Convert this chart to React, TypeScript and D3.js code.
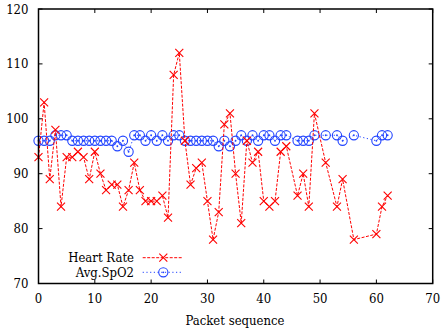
import React from "react";
import * as d3 from "d3";

// packet sequence numbers that were received (45, 50, 52, 55, 57-59 lost)
const packets = [
  0, 1, 2, 3, 4, 5, 6, 7, 8, 9, 10, 11, 12, 13, 14, 15, 16, 17, 18, 19, 20, 21,
  22, 23, 24, 25, 26, 27, 28, 29, 30, 31, 32, 33, 34, 35, 36, 37, 38, 39, 40,
  41, 42, 43, 44, 46, 47, 48, 49, 51, 53, 54, 56, 60, 61, 62,
];
const heartRate = [
  93, 103, 89, 98, 84, 93, 93, 94, 93, 89, 94, 90, 87, 88, 88, 84, 87, 92, 87,
  85, 85, 85, 86, 82, 108, 112, 96, 88, 91, 92, 85, 78, 83, 99, 101, 90, 81, 96,
  92, 94, 85, 84, 85, 94, 95, 86, 90, 84, 101, 92, 84, 89, 78, 79, 84, 86,
];
const avgSpO2 = [
  96, 96, 96, 97, 97, 97, 96, 96, 96, 96, 96, 96, 96, 96, 95, 96, 94, 97, 97,
  96, 97, 96, 97, 96, 97, 97, 96, 96, 96, 96, 96, 96, 95, 96, 95, 96, 97, 96,
  97, 96, 97, 97, 96, 97, 97, 96, 96, 96, 97, 97, 97, 96, 97, 96, 97, 97,
];
const xTicks = [0, 10, 20, 30, 40, 50, 60, 70];
const yTicks = [70, 80, 90, 100, 110, 120];

const W = 441;
const H = 329;
const margin = { top: 9, right: 8.3, bottom: 45.5, left: 38.5 };
const red = "#ff0000";
const blue = "#2244ff";

const Cross = ({ x, y }: { x: number; y: number }) => (
  <path
    d={`M${x - 4},${y - 4}L${x + 4},${y + 4}M${x - 4},${y + 4}L${x + 4},${y - 4}`}
    stroke={red}
    strokeWidth={1.1}
    fill="none"
  />
);

const Circ = ({ x, y }: { x: number; y: number }) => (
  <g>
    <circle cx={x} cy={y} r={4.6} stroke={blue} strokeWidth={1.1} fill="none" />
    <circle cx={x} cy={y} r={0.9} fill={blue} />
  </g>
);

export default function App() {
  const x = d3
    .scaleLinear()
    .domain([0, 70])
    .range([margin.left, W - margin.right]);
  const y = d3
    .scaleLinear()
    .domain([70, 120])
    .range([H - margin.bottom, margin.top]);

  const hr = packets.map((p, i) => [p, heartRate[i]] as [number, number]);
  const sp = packets.map((p, i) => [p, avgSpO2[i]] as [number, number]);
  const line = d3
    .line<[number, number]>()
    .x((d) => x(d[0]))
    .y((d) => y(d[1]));

  const x0 = x(0);
  const x1 = x(70);
  const y0 = y(70);
  const y1 = y(120);

  return (
    <svg
      width={W}
      height={H}
      style={{
        position: "absolute",
        left: 0,
        top: 0,
        background: "#fff",
      }}
    >
      <g
        fontFamily="DejaVu Serif Condensed, DejaVu Serif"
        style={{ fontStretch: "condensed" }}
        fontSize={13}
      >
        {/* ticks, mirrored on all sides like gnuplot */}
        {xTicks.map((t) => (
          <g key={"x" + t}>
            <line x1={x(t)} x2={x(t)} y1={y0} y2={y0 - 4} stroke="#000" />
            <line x1={x(t)} x2={x(t)} y1={y1} y2={y1 + 4} stroke="#000" />
            <text x={x(t)} y={298} textAnchor="middle" dominantBaseline="central">
              {t}
            </text>
          </g>
        ))}
        {yTicks.map((t) => (
          <g key={"y" + t}>
            <line x1={x0} x2={x0 + 4} y1={y(t)} y2={y(t)} stroke="#000" />
            <line x1={x1} x2={x1 - 4} y1={y(t)} y2={y(t)} stroke="#000" />
            <text x={28.5} y={y(t)} textAnchor="end" dominantBaseline="central">
              {t}
            </text>
          </g>
        ))}

        {/* series */}
        <path
          d={line(sp) ?? ""}
          fill="none"
          stroke={blue}
          strokeWidth={1}
          strokeDasharray="1.2 2.5"
        />
        {sp.map((d, i) => (
          <Circ key={"s" + i} x={x(d[0])} y={y(d[1])} />
        ))}
        <path
          d={line(hr) ?? ""}
          fill="none"
          stroke={red}
          strokeWidth={1}
          strokeDasharray="3 1.5"
        />
        {hr.map((d, i) => (
          <Cross key={"h" + i} x={x(d[0])} y={y(d[1])} />
        ))}

        {/* legend */}
        <text x={134} y={257.7} textAnchor="end" dominantBaseline="central">
          Heart Rate
        </text>
        <line
          x1={142.7}
          x2={181.7}
          y1={257.7}
          y2={257.7}
          stroke={red}
          strokeDasharray="3 1.5"
        />
        <Cross x={163.3} y={257.7} />
        <text x={134} y={272.3} textAnchor="end" dominantBaseline="central">
          Avg.SpO2
        </text>
        <line
          x1={142.7}
          x2={181.7}
          y1={272.3}
          y2={272.3}
          stroke={blue}
          strokeDasharray="1.2 2.5"
        />
        <Circ x={163.3} y={272.3} />

        {/* frame */}
        <rect
          x={x0}
          y={y1}
          width={x1 - x0}
          height={y0 - y1}
          fill="none"
          stroke="#000"
          strokeWidth={1.5}
        />

        <text x={235} y={320.5} textAnchor="middle" dominantBaseline="central">
          Packet sequence
        </text>
      </g>
    </svg>
  );
}
